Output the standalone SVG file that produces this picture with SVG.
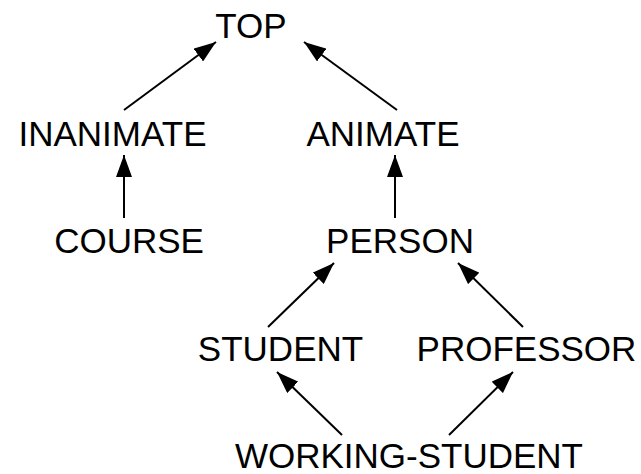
<svg xmlns="http://www.w3.org/2000/svg" width="641" height="474" viewBox="0 0 641 474">
<style>
text{font-family:"Liberation Sans",Arial,Helvetica,sans-serif;font-size:35px;fill:#000;text-anchor:middle}
.e{stroke:#000;stroke-width:2;fill:none;marker-end:url(#ah)}
</style>
<defs>
<marker id="ah" markerUnits="userSpaceOnUse" markerWidth="22" markerHeight="16" refX="22" refY="8" orient="auto">
<path d="M0,0 L22,8 L0,16 z" fill="#000"/>
</marker>
</defs>
<rect width="641" height="474" fill="#fff"/>
<g id="connectors">
<line class="e" x1="124" y1="110" x2="216" y2="42"/>
<line class="e" x1="397" y1="110" x2="304" y2="42"/>
<line class="e" x1="124" y1="218" x2="124" y2="155"/>
<line class="e" x1="395" y1="218" x2="395" y2="155"/>
<line class="e" x1="268" y1="327" x2="334" y2="263"/>
<line class="e" x1="523" y1="327" x2="458" y2="263"/>
<line class="e" x1="342" y1="435" x2="277" y2="372"/>
<line class="e" x1="449" y1="435" x2="513" y2="372"/>
</g>
<g id="top"><text x="251" y="38">TOP</text></g>
<g id="inanimate"><text x="112.5" y="146">INANIMATE</text></g>
<g id="animate"><text x="383" y="146">ANIMATE</text></g>
<g id="course"><text x="129" y="253">COURSE</text></g>
<g id="person"><text x="400" y="253">PERSON</text></g>
<g id="student"><text x="280.5" y="361">STUDENT</text></g>
<g id="professor"><text x="526.5" y="361">PROFESSOR</text></g>
<g id="working-student"><text x="409" y="468">WORKING-STUDENT</text></g>
</svg>
